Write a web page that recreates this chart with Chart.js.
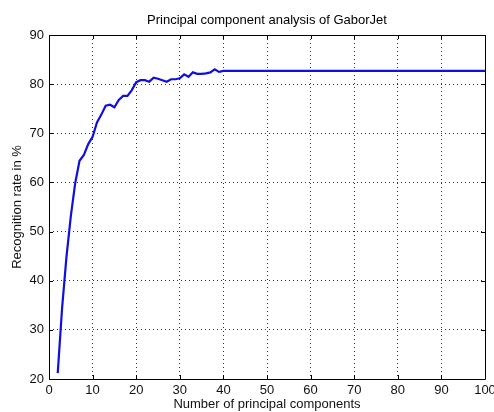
<!DOCTYPE html>
<html>
<head>
<meta charset="utf-8">
<script src="https://cdn.jsdelivr.net/npm/chart.js@4"></script>
<style>
  html, body { margin: 0; padding: 0; background: #fff; }
  canvas { display: block; }
</style>
</head>
<body>
<canvas id="myChart" width="494" height="412"></canvas>
<script>
// number of principal components and recognition rate (%)
var components = [2, 3, 4, 5, 6, 7, 8, 9, 10, 11, 12, 13, 14, 15, 16, 17, 18, 19, 20,
                  21, 22, 23, 24, 25, 26, 27, 28, 29, 30, 31, 32, 33, 34, 35, 36, 37, 38, 39, 40, 100];
var rates = [21.2, 34.4, 44.8, 53.1, 59.8, 64.4, 65.6, 67.8, 69.3, 72.2, 73.8, 75.6, 75.8, 75.3, 76.8, 77.6, 77.6, 78.8, 80.4,
             80.8, 80.8, 80.5, 81.3, 81.1, 80.8, 80.5, 81.0, 81.0, 81.2, 82.0, 81.5, 82.4, 82.1, 82.1, 82.2, 82.4, 83.0, 82.5, 82.7, 82.7];

var xTicks = [0, 10, 20, 30, 40, 50, 60, 70, 80, 90, 100];
var yTicks = [20, 30, 40, 50, 60, 70, 80, 90];

var points = components.map(function (c, i) { return {x: c, y: rates[i]}; });

var FONT = '"Liberation Sans", Arial, sans-serif';

// matlab style frame, inward ticks and title
var matlabFrame = {
    id: 'matlabFrame',
    afterDraw: function (chart) {
        var ctx = chart.ctx, a = chart.chartArea;
        var xs = chart.scales.x, ys = chart.scales.y;
        ctx.save();
        ctx.strokeStyle = '#000';
        ctx.lineWidth = 1;
        ctx.beginPath();
        ctx.rect(Math.round(a.left) + 0.5, Math.round(a.top) + 0.5,
                 Math.round(a.right - a.left), Math.round(a.bottom - a.top));
        ctx.stroke();
        ctx.beginPath();
        xTicks.forEach(function (t) {
            var px = Math.round(xs.getPixelForValue(t)) + 0.5;
            ctx.moveTo(px, a.bottom); ctx.lineTo(px, a.bottom - 4);
            ctx.moveTo(px, a.top); ctx.lineTo(px, a.top + 4);
        });
        yTicks.forEach(function (t) {
            var py = Math.round(ys.getPixelForValue(t)) + 0.5;
            ctx.moveTo(a.left, py); ctx.lineTo(a.left + 4, py);
            ctx.moveTo(a.right, py); ctx.lineTo(a.right - 4, py);
        });
        ctx.stroke();
        ctx.fillStyle = '#000';
        ctx.font = '13px ' + FONT;
        ctx.textAlign = 'center';
        ctx.textBaseline = 'middle';
        ctx.fillText('Principal component analysis of GaborJet', (a.left + a.right) / 2, 20);
        ctx.restore();
    }
};

var ctx = document.getElementById('myChart').getContext('2d');
var chart = new Chart(ctx, {
    type: 'line',
    data: {
        datasets: [{
            data: points,
            borderColor: '#0f0fe0',
            borderWidth: 2.2,
            pointRadius: 0,
            tension: 0,
            fill: false
        }]
    },
    options: {
        responsive: false,
        animation: false,
        layout: { padding: { top: 35, right: 9, left: 0, bottom: 0 } },
        plugins: {
            legend: { display: false },
            tooltip: { enabled: false }
        },
        scales: {
            x: {
                type: 'linear',
                min: 0,
                max: 100,
                afterBuildTicks: function (s) { s.ticks = xTicks.map(function (v) { return {value: v}; }); },
                afterFit: function (s) { s.height = 33; s.paddingLeft = 0; s.paddingRight = 0; },
                grid: { color: '#333', lineWidth: 1, drawTicks: false },
                border: { display: false, dash: [1, 3] },
                ticks: { color: '#111', padding: 4, maxRotation: 0, font: { family: FONT, size: 13 } },
                title: {
                    display: true,
                    text: 'Number of principal components',
                    color: '#111',
                    padding: 0,
                    font: { family: FONT, size: 13 }
                }
            },
            y: {
                min: 20,
                max: 90,
                afterBuildTicks: function (s) { s.ticks = yTicks.map(function (v) { return {value: v}; }); },
                afterFit: function (s) { s.width = 49; s.paddingTop = 0; s.paddingBottom = 0; },
                grid: { color: '#333', lineWidth: 1, drawTicks: false },
                border: { display: false, dash: [1, 3] },
                ticks: { color: '#111', padding: 5, font: { family: FONT, size: 13 } },
                title: {
                    display: true,
                    text: 'Recognition rate in %',
                    color: '#111',
                    padding: { top: 10, bottom: 0 },
                    font: { family: FONT, size: 13 }
                }
            }
        }
    },
    plugins: [matlabFrame]
});
</script>
</body>
</html>
